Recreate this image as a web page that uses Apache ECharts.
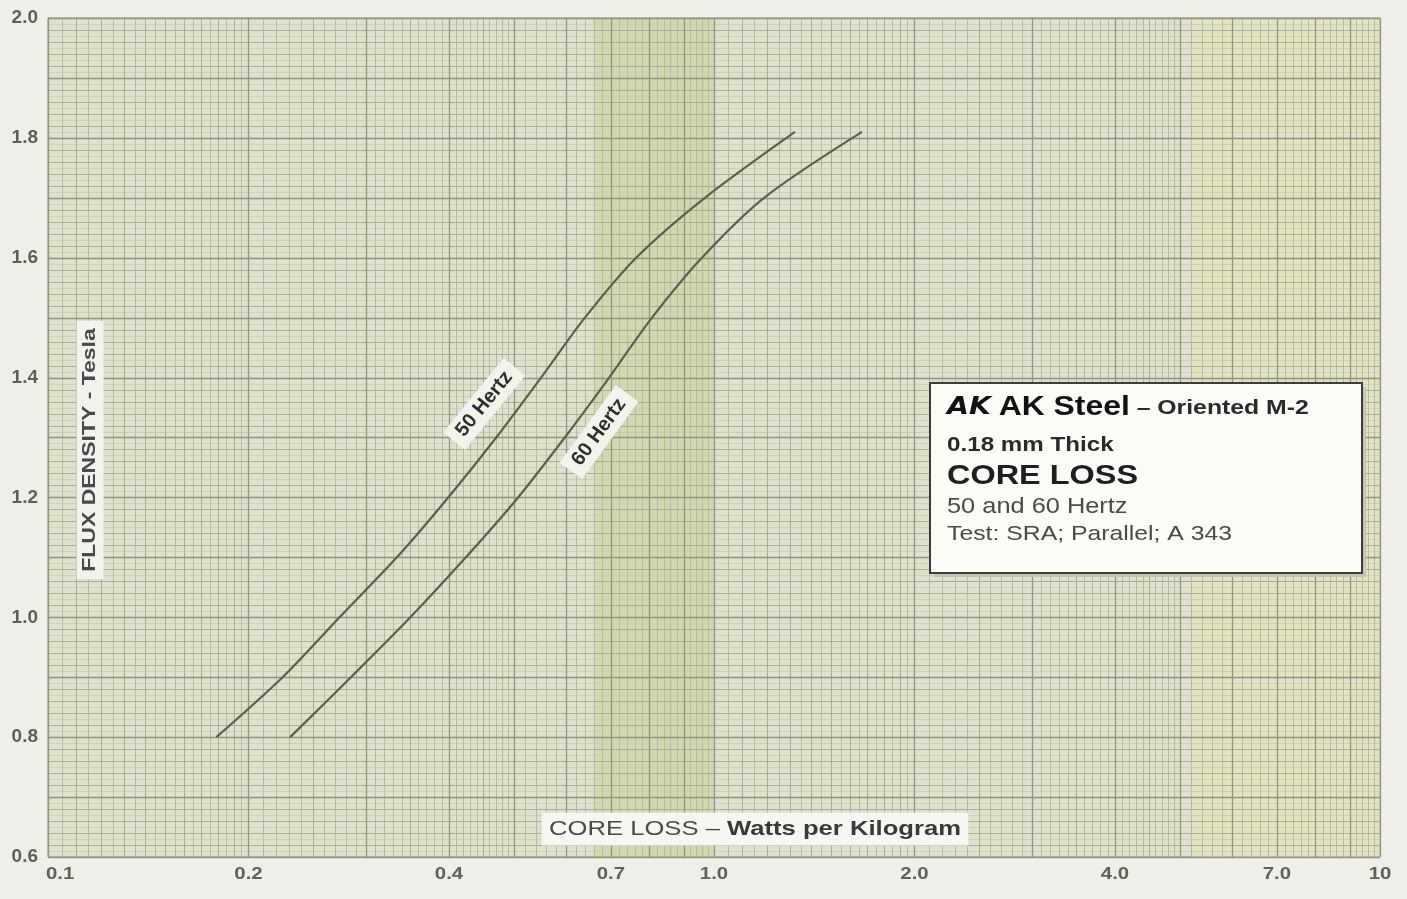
<!DOCTYPE html>
<html>
<head>
<meta charset="utf-8">
<script src="https://cdn.jsdelivr.net/npm/echarts@6/dist/echarts.min.js"></script>
<style>
  html, body { margin: 0; padding: 0; background: #efefea; }
  #chart { width: 1407px; height: 899px; }
</style>
</head>
<body>
<div id="chart"></div>
<script>
// Core loss (W/kg) against peak flux density (T), AK Steel Oriented M-2, 0.18 mm
const xTickValues = [0.1, 0.2, 0.4, 0.7, 1.0, 2.0, 4.0, 7.0, 10];
const xTickLabels = ['0.1', '0.2', '0.4', '0.7', '1.0', '2.0', '4.0', '7.0', '10'];

const hz50Loss = [0.179, 0.225, 0.274, 0.334, 0.399, 0.471, 0.550, 0.640, 0.764, 0.969, 1.323];
const hz50Flux = [0.80, 0.90, 1.00, 1.10, 1.20, 1.30, 1.40, 1.50, 1.60, 1.70, 1.81];

const hz60Loss = [0.231, 0.285, 0.350, 0.424, 0.508, 0.597, 0.696, 0.807, 0.959, 1.189, 1.668];
const hz60Flux = [0.80, 0.90, 1.00, 1.10, 1.20, 1.30, 1.40, 1.50, 1.60, 1.70, 1.81];

const LOSS_MIN = 0.1, LOSS_MAX = 10;
const FLUX_MIN = 0.6, FLUX_MAX = 2.0;

// Semi-log graph paper rulings: [value, weight level]
function isWhole(v) { return Math.abs(v - Math.round(v)) < 1e-6; }
function verticalRulings() {
  const out = [];
  [0.1, 1].forEach(function (d) {
    for (let m = 1; m < 2 - 1e-9; m += 0.05) out.push([d * m, isWhole(m) ? 0 : (isWhole(m * 10) ? 1 : 2)]);
    for (let m = 2; m < 5 - 1e-9; m += 0.1) out.push([d * m, isWhole(m) ? 0 : (isWhole(m * 2) ? 1 : 2)]);
    for (let m = 5; m < 10 - 1e-9; m += 0.2) out.push([d * m, isWhole(m) ? 0 : 2]);
  });
  out.push([LOSS_MAX, 0]);
  return out;
}
function horizontalRulings() {
  const out = [];
  for (let i = 0; i <= 140; i++) {
    out.push([FLUX_MIN + i * 0.01, i % 10 === 0 ? 0 : (i % 2 === 0 ? 1 : 3)]);
  }
  return out;
}
const V_RULES = verticalRulings();
const H_RULES = horizontalRulings();
const RULE_STYLE = [
  { c: '#929581', w: 1.3 },
  { c: '#a9ac96', w: 1 },
  { c: '#b7baa4', w: 1 },
  { c: '#cdd0bb', w: 1 }
];
// tinted strips of the printed sheet: [from, to, colour]
const PAPER_TINTS = [
  [0.66, 1.0, 'rgba(196, 208, 130, 0.42)'],
  [5.2, 10, 'rgba(232, 230, 176, 0.40)']
];

function renderPaper(params, api) {
  const children = [];
  const p0 = api.coord([LOSS_MIN, FLUX_MIN]);
  const p1 = api.coord([LOSS_MAX, FLUX_MAX]);
  PAPER_TINTS.forEach(function (t) {
    const a = api.coord([t[0], FLUX_MIN])[0];
    const b = api.coord([t[1], FLUX_MIN])[0];
    children.push({ type: 'rect', shape: { x: a, y: p1[1], width: b - a, height: p0[1] - p1[1] }, style: { fill: t[2] } });
  });
  [3, 2, 1, 0].forEach(function (lvl) {
    V_RULES.forEach(function (r) {
      if (r[1] !== lvl) return;
      const x = Math.round(api.coord([r[0], FLUX_MIN])[0]) + 0.5;
      children.push({ type: 'line', shape: { x1: x, y1: p1[1], x2: x, y2: p0[1] }, style: { stroke: RULE_STYLE[lvl].c, lineWidth: RULE_STYLE[lvl].w } });
    });
    H_RULES.forEach(function (r) {
      if (r[1] !== lvl) return;
      const y = Math.round(api.coord([LOSS_MIN, r[0]])[1]) + 0.5;
      children.push({ type: 'line', shape: { x1: p0[0], y1: y, x2: p1[0], y2: y }, style: { stroke: RULE_STYLE[lvl].c, lineWidth: RULE_STYLE[lvl].w } });
    });
  });
  return { type: 'group', children: children, silent: true };
}

function renderXTick(params, api) {
  const i = api.value(2);
  const p = api.coord([api.value(0), FLUX_MIN]);
  const first = i === 0;
  return {
    type: 'text',
    x: first ? p[0] - 2 : p[0], y: p[1] + 17,
    scaleX: 1.2,
    style: {
      text: xTickLabels[i],
      fill: '#606060',
      font: 'bold 17px "Liberation Sans", Arial, sans-serif',
      align: first ? 'left' : 'center', verticalAlign: 'middle'
    }
  };
}

const curveLabel = function (text, rot) {
  return {
    show: true,
    position: 'inside',
    formatter: text,
    rotate: rot,
    color: '#2e2e2e',
    fontFamily: '"Liberation Sans", Arial, sans-serif',
    fontWeight: 'bold',
    fontSize: 20,
    backgroundColor: '#f3f3ee',
    padding: [4, 9]
  };
};

const chart = echarts.init(document.getElementById('chart'), null, { renderer: 'canvas' });

chart.setOption({
  backgroundColor: '#efefea',
  animation: false,
  grid: {
    left: 48, right: 27, top: 18, bottom: 42,
    show: true,
    backgroundColor: '#dee1ce',
    borderColor: '#929581',
    borderWidth: 1
  },
  xAxis: {
    type: 'log',
    logBase: 10,
    min: LOSS_MIN,
    max: LOSS_MAX,
    axisLine: { show: false },
    axisTick: { show: false },
    axisLabel: { show: false },
    splitLine: { show: false }
  },
  yAxis: {
    type: 'value',
    min: FLUX_MIN,
    max: FLUX_MAX,
    interval: 0.2,
    axisLine: { show: false },
    axisTick: { show: false },
    splitLine: { show: false },
    axisLabel: {
      margin: 10,
      color: '#5e5e5e',
      fontSize: 19,
      fontWeight: 'bold',
      fontFamily: '"Liberation Sans", Arial, sans-serif',
      formatter: function (v) { return v.toFixed(1); }
    }
  },
  series: [
    {
      type: 'custom',
      name: 'paper',
      silent: true,
      z: 0,
      data: [[1, 1]],
      encode: { x: 0, y: 1 },
      renderItem: renderPaper
    },
    {
      type: 'custom',
      name: 'xTicks',
      silent: true,
      z: 3,
      data: xTickValues.map(function (v, i) { return [v, FLUX_MIN, i]; }),
      encode: { x: 0, y: 1 },
      renderItem: renderXTick
    },
    {
      type: 'line',
      name: '50 Hertz',
      z: 5,
      smooth: 0.3,
      showSymbol: false,
      lineStyle: { color: '#5a614d', width: 2.2 },
      data: hz50Loss.map(function (x, i) { return [x, hz50Flux[i]]; }),
      markPoint: {
        symbol: 'rect', symbolSize: 1,
        itemStyle: { color: 'rgba(0,0,0,0)' },
        label: curveLabel('50 Hertz', 51),
        data: [{ coord: [0.452, 1.356] }]
      }
    },
    {
      type: 'line',
      name: '60 Hertz',
      z: 5,
      smooth: 0.3,
      showSymbol: false,
      lineStyle: { color: '#5a614d', width: 2.2 },
      data: hz60Loss.map(function (x, i) { return [x, hz60Flux[i]]; }),
      markPoint: {
        symbol: 'rect', symbolSize: 1,
        itemStyle: { color: 'rgba(0,0,0,0)' },
        label: curveLabel('60 Hertz', 54),
        data: [{ coord: [0.672, 1.309] }]
      }
    }
  ],
  graphic: [
    // y-axis title
    {
      type: 'text',
      x: 90, y: 450,
      rotation: Math.PI / 2,
      scaleX: 1.21,
      z: 20,
      style: {
        text: 'FLUX DENSITY - Tesla',
        fill: '#4a4a4a',
        font: 'bold 19px "Liberation Sans", Arial, sans-serif',
        align: 'center', verticalAlign: 'middle',
        backgroundColor: '#f2f2ee',
        padding: [4, 6]
      }
    },
    // x-axis title
    {
      type: 'text',
      x: 755, y: 829,
      scaleX: 1.22,
      z: 20,
      style: {
        text: '{n|CORE LOSS – }{b|Watts per Kilogram}',
        align: 'center', verticalAlign: 'middle',
        backgroundColor: '#f6f6f2',
        padding: [6, 6],
        rich: {
          n: { fill: '#4a4a4a', font: '21px "Liberation Sans", Arial, sans-serif' },
          b: { fill: '#3a3a3a', font: 'bold 21px "Liberation Sans", Arial, sans-serif' }
        }
      }
    },
    // title panel
    {
      type: 'rect', z: 20,
      shape: { x: 934, y: 387, width: 432, height: 190 },
      style: { fill: '#c2c4b6' }
    },
    {
      type: 'rect', z: 21,
      shape: { x: 930, y: 383, width: 432, height: 190 },
      style: { fill: '#fbfbf8', stroke: '#3c3c3c', lineWidth: 2 }
    },
    {
      type: 'group', z: 22,
      x: 947, y: 0,
      scaleX: 1.18,
      children: [
        {
          type: 'text', x: 0, y: 408, z: 22,
          style: {
            text: '{logo|AK}  {ak|AK Steel}{or| – Oriented M-2}',
            verticalAlign: 'middle',
            rich: {
              logo: { fill: '#111', font: 'italic 900 24px "DejaVu Sans", sans-serif' },
              ak: { fill: '#111', font: 'bold 27px "Liberation Sans", Arial, sans-serif' },
              or: { fill: '#2a2a2a', font: 'bold 21px "Liberation Sans", Arial, sans-serif' }
            }
          }
        },
        {
          type: 'text', x: 0, y: 445, z: 22,
          style: { text: '0.18 mm Thick', fill: '#2a2a2a', font: 'bold 20.5px "Liberation Sans", Arial, sans-serif', verticalAlign: 'middle' }
        },
        {
          type: 'text', x: 0, y: 476, z: 22,
          style: { text: 'CORE LOSS', fill: '#1e1e1e', font: 'bold 27.5px "Liberation Sans", Arial, sans-serif', verticalAlign: 'middle' }
        },
        {
          type: 'text', x: 0, y: 507, z: 22,
          style: { text: '50 and 60 Hertz', fill: '#4a4a4a', font: '21.5px "Liberation Sans", Arial, sans-serif', verticalAlign: 'middle' }
        },
        {
          type: 'text', x: 0, y: 534, z: 22,
          style: { text: 'Test: SRA; Parallel; A 343', fill: '#4a4a4a', font: '21px "Liberation Sans", Arial, sans-serif', verticalAlign: 'middle' }
        }
      ]
    }
  ]
});
</script>
</body>
</html>
